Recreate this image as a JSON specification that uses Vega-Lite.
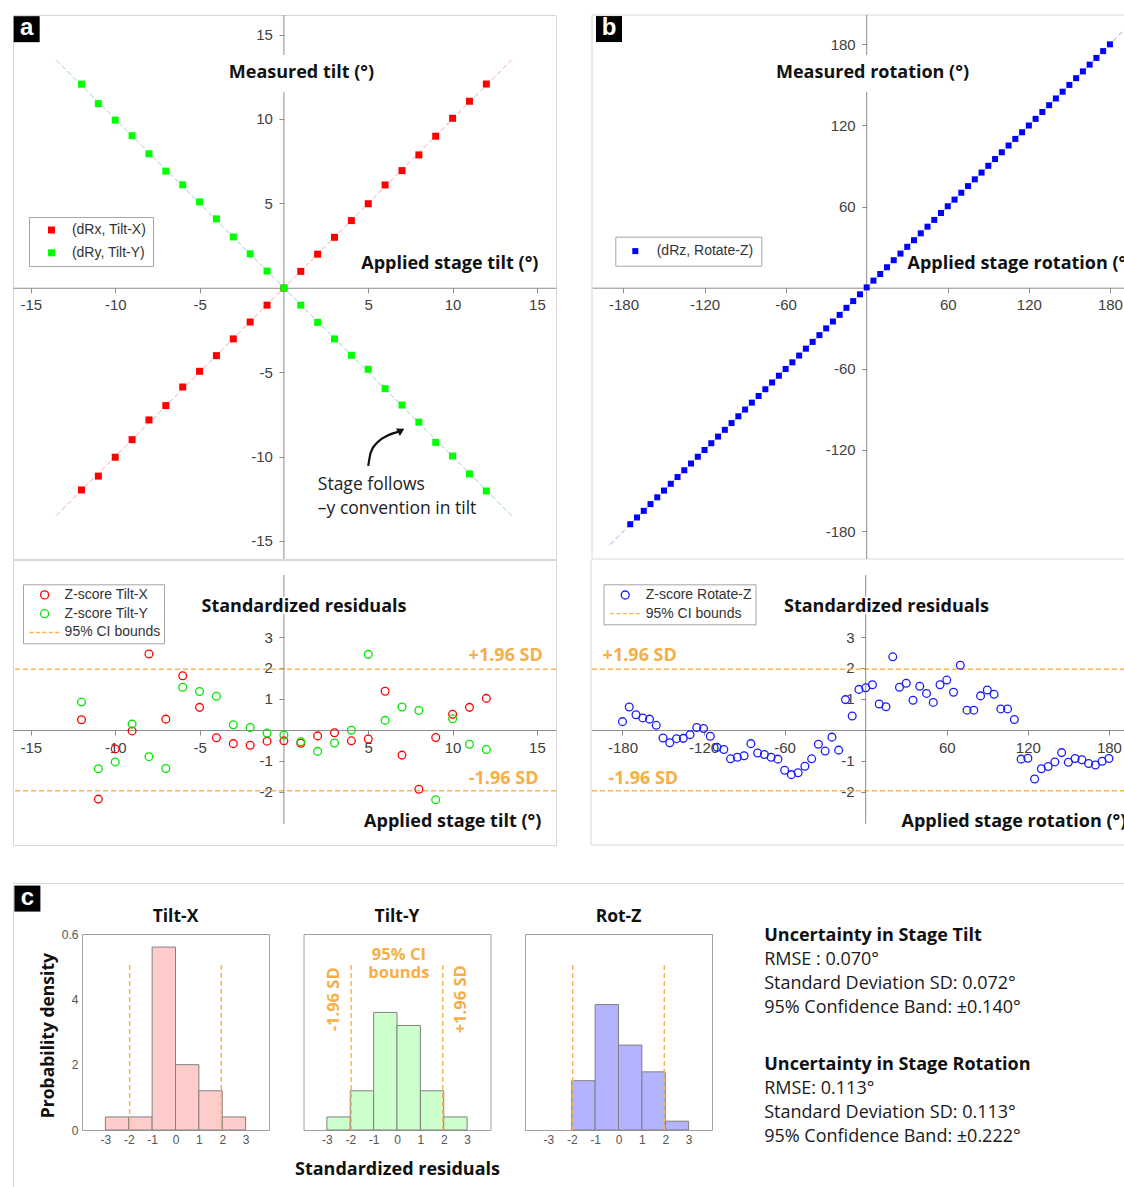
{
"$schema": "https://vega.github.io/schema/vega-lite/v6.json",
"background": "white",
"padding": {"left": 11, "top": 14, "right": 0, "bottom": 0},
"config": {
  "view": {"stroke": "#d6d6d6"},
  "axis": {"labelFont": "Liberation Sans", "labelFontSize": 15, "labelColor": "#404040", "tickColor": "#8c8c8c", "domainColor": "#8c8c8c", "tickSize": 5, "labelPadding": 5, "grid": false, "labelFlush": false, "labelOverlap": false},
  "title": {"font": "Open Sans", "fontWeight": "bold", "fontSize": 17.5, "color": "#111111"},
  "legend": {"labelFont": "Liberation Sans", "labelFontSize": 14, "labelColor": "#333333", "strokeColor": "#a6a6a6", "fillColor": "white", "labelLimit": 300}
},
"datasets": {
  "tilt": [
    {"series":"(dRx, Tilt-X)","applied":-12,"measured":-11.98},{"series":"(dRx, Tilt-X)","applied":-11,"measured":-11.16},{"series":"(dRx, Tilt-X)","applied":-10,"measured":-10.04},{"series":"(dRx, Tilt-X)","applied":-9,"measured":-9.0},{"series":"(dRx, Tilt-X)","applied":-8,"measured":-7.83},{"series":"(dRx, Tilt-X)","applied":-7,"measured":-6.98},{"series":"(dRx, Tilt-X)","applied":-6,"measured":-5.88},{"series":"(dRx, Tilt-X)","applied":-5,"measured":-4.95},{"series":"(dRx, Tilt-X)","applied":-4,"measured":-4.02},{"series":"(dRx, Tilt-X)","applied":-3,"measured":-3.03},{"series":"(dRx, Tilt-X)","applied":-2,"measured":-2.03},{"series":"(dRx, Tilt-X)","applied":-1,"measured":-1.03},{"series":"(dRx, Tilt-X)","applied":0,"measured":-0.02},{"series":"(dRx, Tilt-X)","applied":1,"measured":0.97},{"series":"(dRx, Tilt-X)","applied":2,"measured":1.99},{"series":"(dRx, Tilt-X)","applied":3,"measured":2.99},{"series":"(dRx, Tilt-X)","applied":4,"measured":3.98},{"series":"(dRx, Tilt-X)","applied":5,"measured":4.98},{"series":"(dRx, Tilt-X)","applied":6,"measured":6.09},{"series":"(dRx, Tilt-X)","applied":7,"measured":6.94},{"series":"(dRx, Tilt-X)","applied":8,"measured":7.87},{"series":"(dRx, Tilt-X)","applied":9,"measured":8.98},{"series":"(dRx, Tilt-X)","applied":10,"measured":10.04},{"series":"(dRx, Tilt-X)","applied":11,"measured":11.05},{"series":"(dRx, Tilt-X)","applied":12,"measured":12.07},
    {"series":"(dRy, Tilt-Y)","applied":-12,"measured":12.06},{"series":"(dRy, Tilt-Y)","applied":-11,"measured":10.91},{"series":"(dRy, Tilt-Y)","applied":-10,"measured":9.93},{"series":"(dRy, Tilt-Y)","applied":-9,"measured":9.01},{"series":"(dRy, Tilt-Y)","applied":-8,"measured":7.94},{"series":"(dRy, Tilt-Y)","applied":-7,"measured":6.91},{"series":"(dRy, Tilt-Y)","applied":-6,"measured":6.10},{"series":"(dRy, Tilt-Y)","applied":-5,"measured":5.09},{"series":"(dRy, Tilt-Y)","applied":-4,"measured":4.08},{"series":"(dRy, Tilt-Y)","applied":-3,"measured":3.01},{"series":"(dRy, Tilt-Y)","applied":-2,"measured":2.01},{"series":"(dRy, Tilt-Y)","applied":-1,"measured":0.99},{"series":"(dRy, Tilt-Y)","applied":0,"measured":-0.01},{"series":"(dRy, Tilt-Y)","applied":1,"measured":-1.03},{"series":"(dRy, Tilt-Y)","applied":2,"measured":-2.05},{"series":"(dRy, Tilt-Y)","applied":3,"measured":-3.03},{"series":"(dRy, Tilt-Y)","applied":4,"measured":-4.0},{"series":"(dRy, Tilt-Y)","applied":5,"measured":-4.83},{"series":"(dRy, Tilt-Y)","applied":6,"measured":-5.98},{"series":"(dRy, Tilt-Y)","applied":7,"measured":-6.95},{"series":"(dRy, Tilt-Y)","applied":8,"measured":-7.96},{"series":"(dRy, Tilt-Y)","applied":9,"measured":-9.16},{"series":"(dRy, Tilt-Y)","applied":10,"measured":-9.97},{"series":"(dRy, Tilt-Y)","applied":11,"measured":-11.03},{"series":"(dRy, Tilt-Y)","applied":12,"measured":-12.04}
  ],
  "rot": [
    {"series":"(dRz, Rotate-Z)","applied":-175,"measured":-174.9},{"series":"(dRz, Rotate-Z)","applied":-170,"measured":-169.9},{"series":"(dRz, Rotate-Z)","applied":-165,"measured":-165.0},{"series":"(dRz, Rotate-Z)","applied":-160,"measured":-160.0},{"series":"(dRz, Rotate-Z)","applied":-155,"measured":-155.0},{"series":"(dRz, Rotate-Z)","applied":-150,"measured":-150.0},{"series":"(dRz, Rotate-Z)","applied":-145,"measured":-145.0},{"series":"(dRz, Rotate-Z)","applied":-140,"measured":-140.0},{"series":"(dRz, Rotate-Z)","applied":-135,"measured":-135.0},{"series":"(dRz, Rotate-Z)","applied":-130,"measured":-130.0},{"series":"(dRz, Rotate-Z)","applied":-125,"measured":-125.0},{"series":"(dRz, Rotate-Z)","applied":-120,"measured":-120.0},{"series":"(dRz, Rotate-Z)","applied":-115,"measured":-115.0},{"series":"(dRz, Rotate-Z)","applied":-110,"measured":-110.1},{"series":"(dRz, Rotate-Z)","applied":-105,"measured":-105.1},{"series":"(dRz, Rotate-Z)","applied":-100,"measured":-100.1},{"series":"(dRz, Rotate-Z)","applied":-95,"measured":-95.1},{"series":"(dRz, Rotate-Z)","applied":-90,"measured":-90.1},{"series":"(dRz, Rotate-Z)","applied":-85,"measured":-85.0},{"series":"(dRz, Rotate-Z)","applied":-80,"measured":-80.1},{"series":"(dRz, Rotate-Z)","applied":-75,"measured":-75.1},{"series":"(dRz, Rotate-Z)","applied":-70,"measured":-70.1},{"series":"(dRz, Rotate-Z)","applied":-65,"measured":-65.1},{"series":"(dRz, Rotate-Z)","applied":-60,"measured":-60.1},{"series":"(dRz, Rotate-Z)","applied":-55,"measured":-55.2},{"series":"(dRz, Rotate-Z)","applied":-50,"measured":-50.2},{"series":"(dRz, Rotate-Z)","applied":-45,"measured":-45.1},{"series":"(dRz, Rotate-Z)","applied":-40,"measured":-40.1},{"series":"(dRz, Rotate-Z)","applied":-35,"measured":-35.1},{"series":"(dRz, Rotate-Z)","applied":-30,"measured":-30.1},{"series":"(dRz, Rotate-Z)","applied":-25,"measured":-25.0},{"series":"(dRz, Rotate-Z)","applied":-20,"measured":-20.1},{"series":"(dRz, Rotate-Z)","applied":-15,"measured":-14.9},{"series":"(dRz, Rotate-Z)","applied":-10,"measured":-9.9},{"series":"(dRz, Rotate-Z)","applied":-5,"measured":-4.9},{"series":"(dRz, Rotate-Z)","applied":0,"measured":0.2},{"series":"(dRz, Rotate-Z)","applied":5,"measured":5.2},{"series":"(dRz, Rotate-Z)","applied":10,"measured":10.1},{"series":"(dRz, Rotate-Z)","applied":15,"measured":15.1},{"series":"(dRz, Rotate-Z)","applied":20,"measured":20.3},{"series":"(dRz, Rotate-Z)","applied":25,"measured":25.2},{"series":"(dRz, Rotate-Z)","applied":30,"measured":30.2},{"series":"(dRz, Rotate-Z)","applied":35,"measured":35.1},{"series":"(dRz, Rotate-Z)","applied":40,"measured":40.2},{"series":"(dRz, Rotate-Z)","applied":45,"measured":45.1},{"series":"(dRz, Rotate-Z)","applied":50,"measured":50.1},{"series":"(dRz, Rotate-Z)","applied":55,"measured":55.2},{"series":"(dRz, Rotate-Z)","applied":60,"measured":60.2},{"series":"(dRz, Rotate-Z)","applied":65,"measured":65.1},{"series":"(dRz, Rotate-Z)","applied":70,"measured":70.2},{"series":"(dRz, Rotate-Z)","applied":75,"measured":75.1},{"series":"(dRz, Rotate-Z)","applied":80,"measured":80.1},{"series":"(dRz, Rotate-Z)","applied":85,"measured":85.1},{"series":"(dRz, Rotate-Z)","applied":90,"measured":90.1},{"series":"(dRz, Rotate-Z)","applied":95,"measured":95.1},{"series":"(dRz, Rotate-Z)","applied":100,"measured":100.1},{"series":"(dRz, Rotate-Z)","applied":105,"measured":105.1},{"series":"(dRz, Rotate-Z)","applied":110,"measured":110.0},{"series":"(dRz, Rotate-Z)","applied":115,"measured":114.9},{"series":"(dRz, Rotate-Z)","applied":120,"measured":119.9},{"series":"(dRz, Rotate-Z)","applied":125,"measured":124.8},{"series":"(dRz, Rotate-Z)","applied":130,"measured":129.9},{"series":"(dRz, Rotate-Z)","applied":135,"measured":134.9},{"series":"(dRz, Rotate-Z)","applied":140,"measured":139.9},{"series":"(dRz, Rotate-Z)","applied":145,"measured":144.9},{"series":"(dRz, Rotate-Z)","applied":150,"measured":149.9},{"series":"(dRz, Rotate-Z)","applied":155,"measured":154.9},{"series":"(dRz, Rotate-Z)","applied":160,"measured":159.9},{"series":"(dRz, Rotate-Z)","applied":165,"measured":164.9},{"series":"(dRz, Rotate-Z)","applied":170,"measured":169.9},{"series":"(dRz, Rotate-Z)","applied":175,"measured":174.9},{"series":"(dRz, Rotate-Z)","applied":180,"measured":179.9}
  ],
  "zTilt": [
    {"series":"Z-score Tilt-X","applied":-12,"z":0.33},{"series":"Z-score Tilt-X","applied":-11,"z":-2.23},{"series":"Z-score Tilt-X","applied":-10,"z":-0.61},{"series":"Z-score Tilt-X","applied":-9,"z":-0.03},{"series":"Z-score Tilt-X","applied":-8,"z":2.45},{"series":"Z-score Tilt-X","applied":-7,"z":0.35},{"series":"Z-score Tilt-X","applied":-6,"z":1.75},{"series":"Z-score Tilt-X","applied":-5,"z":0.73},{"series":"Z-score Tilt-X","applied":-4,"z":-0.25},{"series":"Z-score Tilt-X","applied":-3,"z":-0.44},{"series":"Z-score Tilt-X","applied":-2,"z":-0.49},{"series":"Z-score Tilt-X","applied":-1,"z":-0.36},{"series":"Z-score Tilt-X","applied":0,"z":-0.35},{"series":"Z-score Tilt-X","applied":1,"z":-0.43},{"series":"Z-score Tilt-X","applied":2,"z":-0.19},{"series":"Z-score Tilt-X","applied":3,"z":-0.09},{"series":"Z-score Tilt-X","applied":4,"z":-0.35},{"series":"Z-score Tilt-X","applied":5,"z":-0.29},{"series":"Z-score Tilt-X","applied":6,"z":1.25},{"series":"Z-score Tilt-X","applied":7,"z":-0.81},{"series":"Z-score Tilt-X","applied":8,"z":-1.91},{"series":"Z-score Tilt-X","applied":9,"z":-0.24},{"series":"Z-score Tilt-X","applied":10,"z":0.51},{"series":"Z-score Tilt-X","applied":11,"z":0.73},{"series":"Z-score Tilt-X","applied":12,"z":1.02},
    {"series":"Z-score Tilt-Y","applied":-12,"z":0.90},{"series":"Z-score Tilt-Y","applied":-11,"z":-1.25},{"series":"Z-score Tilt-Y","applied":-10,"z":-1.03},{"series":"Z-score Tilt-Y","applied":-9,"z":0.19},{"series":"Z-score Tilt-Y","applied":-8,"z":-0.86},{"series":"Z-score Tilt-Y","applied":-7,"z":-1.24},{"series":"Z-score Tilt-Y","applied":-6,"z":1.38},{"series":"Z-score Tilt-Y","applied":-5,"z":1.24},{"series":"Z-score Tilt-Y","applied":-4,"z":1.09},{"series":"Z-score Tilt-Y","applied":-3,"z":0.17},{"series":"Z-score Tilt-Y","applied":-2,"z":0.08},{"series":"Z-score Tilt-Y","applied":-1,"z":-0.10},{"series":"Z-score Tilt-Y","applied":0,"z":-0.16},{"series":"Z-score Tilt-Y","applied":1,"z":-0.38},{"series":"Z-score Tilt-Y","applied":2,"z":-0.69},{"series":"Z-score Tilt-Y","applied":3,"z":-0.42},{"series":"Z-score Tilt-Y","applied":4,"z":-0.01},{"series":"Z-score Tilt-Y","applied":5,"z":2.44},{"series":"Z-score Tilt-Y","applied":6,"z":0.31},{"series":"Z-score Tilt-Y","applied":7,"z":0.74},{"series":"Z-score Tilt-Y","applied":8,"z":0.63},{"series":"Z-score Tilt-Y","applied":9,"z":-2.25},{"series":"Z-score Tilt-Y","applied":10,"z":0.36},{"series":"Z-score Tilt-Y","applied":11,"z":-0.46},{"series":"Z-score Tilt-Y","applied":12,"z":-0.63}
  ],
  "zRot": [
    {"series":"Z-score Rotate-Z","applied":-180,"z":0.27},{"series":"Z-score Rotate-Z","applied":-175,"z":0.74},{"series":"Z-score Rotate-Z","applied":-170,"z":0.49},{"series":"Z-score Rotate-Z","applied":-165,"z":0.39},{"series":"Z-score Rotate-Z","applied":-160,"z":0.35},{"series":"Z-score Rotate-Z","applied":-155,"z":0.15},{"series":"Z-score Rotate-Z","applied":-150,"z":-0.26},{"series":"Z-score Rotate-Z","applied":-145,"z":-0.41},{"series":"Z-score Rotate-Z","applied":-140,"z":-0.28},{"series":"Z-score Rotate-Z","applied":-135,"z":-0.27},{"series":"Z-score Rotate-Z","applied":-130,"z":-0.15},{"series":"Z-score Rotate-Z","applied":-125,"z":0.08},{"series":"Z-score Rotate-Z","applied":-120,"z":0.05},{"series":"Z-score Rotate-Z","applied":-115,"z":-0.20},{"series":"Z-score Rotate-Z","applied":-110,"z":-0.56},{"series":"Z-score Rotate-Z","applied":-105,"z":-0.63},{"series":"Z-score Rotate-Z","applied":-100,"z":-0.93},{"series":"Z-score Rotate-Z","applied":-95,"z":-0.88},{"series":"Z-score Rotate-Z","applied":-90,"z":-0.83},{"series":"Z-score Rotate-Z","applied":-85,"z":-0.44},{"series":"Z-score Rotate-Z","applied":-80,"z":-0.74},{"series":"Z-score Rotate-Z","applied":-75,"z":-0.79},{"series":"Z-score Rotate-Z","applied":-70,"z":-0.88},{"series":"Z-score Rotate-Z","applied":-65,"z":-0.94},{"series":"Z-score Rotate-Z","applied":-60,"z":-1.30},{"series":"Z-score Rotate-Z","applied":-55,"z":-1.44},{"series":"Z-score Rotate-Z","applied":-50,"z":-1.38},{"series":"Z-score Rotate-Z","applied":-45,"z":-1.17},{"series":"Z-score Rotate-Z","applied":-40,"z":-0.93},{"series":"Z-score Rotate-Z","applied":-35,"z":-0.46},{"series":"Z-score Rotate-Z","applied":-30,"z":-0.68},{"series":"Z-score Rotate-Z","applied":-25,"z":-0.23},{"series":"Z-score Rotate-Z","applied":-20,"z":-0.65},{"series":"Z-score Rotate-Z","applied":-15,"z":0.98},{"series":"Z-score Rotate-Z","applied":-10,"z":0.45},{"series":"Z-score Rotate-Z","applied":-5,"z":1.31},{"series":"Z-score Rotate-Z","applied":0,"z":1.36},{"series":"Z-score Rotate-Z","applied":5,"z":1.46},{"series":"Z-score Rotate-Z","applied":10,"z":0.84},{"series":"Z-score Rotate-Z","applied":15,"z":0.75},{"series":"Z-score Rotate-Z","applied":20,"z":2.36},{"series":"Z-score Rotate-Z","applied":25,"z":1.38},{"series":"Z-score Rotate-Z","applied":30,"z":1.51},{"series":"Z-score Rotate-Z","applied":35,"z":0.96},{"series":"Z-score Rotate-Z","applied":40,"z":1.41},{"series":"Z-score Rotate-Z","applied":45,"z":1.18},{"series":"Z-score Rotate-Z","applied":50,"z":0.89},{"series":"Z-score Rotate-Z","applied":55,"z":1.46},{"series":"Z-score Rotate-Z","applied":60,"z":1.61},{"series":"Z-score Rotate-Z","applied":65,"z":1.22},{"series":"Z-score Rotate-Z","applied":70,"z":2.09},{"series":"Z-score Rotate-Z","applied":75,"z":0.64},{"series":"Z-score Rotate-Z","applied":80,"z":0.64},{"series":"Z-score Rotate-Z","applied":85,"z":1.10},{"series":"Z-score Rotate-Z","applied":90,"z":1.29},{"series":"Z-score Rotate-Z","applied":95,"z":1.15},{"series":"Z-score Rotate-Z","applied":100,"z":0.68},{"series":"Z-score Rotate-Z","applied":105,"z":0.68},{"series":"Z-score Rotate-Z","applied":110,"z":0.34},{"series":"Z-score Rotate-Z","applied":115,"z":-0.94},{"series":"Z-score Rotate-Z","applied":120,"z":-0.91},{"series":"Z-score Rotate-Z","applied":125,"z":-1.58},{"series":"Z-score Rotate-Z","applied":130,"z":-1.25},{"series":"Z-score Rotate-Z","applied":135,"z":-1.18},{"series":"Z-score Rotate-Z","applied":140,"z":-1.03},{"series":"Z-score Rotate-Z","applied":145,"z":-0.73},{"series":"Z-score Rotate-Z","applied":150,"z":-1.04},{"series":"Z-score Rotate-Z","applied":155,"z":-0.92},{"series":"Z-score Rotate-Z","applied":160,"z":-0.96},{"series":"Z-score Rotate-Z","applied":165,"z":-1.08},{"series":"Z-score Rotate-Z","applied":170,"z":-1.13},{"series":"Z-score Rotate-Z","applied":175,"z":-1.01},{"series":"Z-score Rotate-Z","applied":180,"z":-0.92}
  ],
  "ciBounds": [{"series":"95% CI bounds","z":1.96},{"series":"95% CI bounds","z":-1.96}],
  "diagA": [{"series":"Tilt-X","applied":-13.5,"measured":-13.5},{"series":"Tilt-X","applied":13.5,"measured":13.5},{"series":"Tilt-Y","applied":-13.5,"measured":13.5},{"series":"Tilt-Y","applied":13.5,"measured":-13.5}],
  "diagB": [{"applied":-190,"measured":-190},{"applied":190,"measured":190}],
  "arrow": [{"applied":5.0,"measured":-10.55},{"applied":5.15,"measured":-9.75},{"applied":5.55,"measured":-9.15},{"applied":6.15,"measured":-8.75},{"applied":6.8,"measured":-8.52}],
  "hist": [
    {"axis":"Tilt-X","bin_start":-3,"bin_end":-2,"density":0.04},{"axis":"Tilt-X","bin_start":-2,"bin_end":-1,"density":0.04},{"axis":"Tilt-X","bin_start":-1,"bin_end":0,"density":0.56},{"axis":"Tilt-X","bin_start":0,"bin_end":1,"density":0.20},{"axis":"Tilt-X","bin_start":1,"bin_end":2,"density":0.12},{"axis":"Tilt-X","bin_start":2,"bin_end":3,"density":0.04},
    {"axis":"Tilt-Y","bin_start":-3,"bin_end":-2,"density":0.04},{"axis":"Tilt-Y","bin_start":-2,"bin_end":-1,"density":0.12},{"axis":"Tilt-Y","bin_start":-1,"bin_end":0,"density":0.36},{"axis":"Tilt-Y","bin_start":0,"bin_end":1,"density":0.32},{"axis":"Tilt-Y","bin_start":1,"bin_end":2,"density":0.12},{"axis":"Tilt-Y","bin_start":2,"bin_end":3,"density":0.04},
    {"axis":"Rot-Z","bin_start":-2,"bin_end":-1,"density":0.151},{"axis":"Rot-Z","bin_start":-1,"bin_end":0,"density":0.384},{"axis":"Rot-Z","bin_start":0,"bin_end":1,"density":0.260},{"axis":"Rot-Z","bin_start":1,"bin_end":2,"density":0.178},{"axis":"Rot-Z","bin_start":2,"bin_end":3,"density":0.027}
  ],
  "histCI": [{"bin_start":-1.96},{"bin_start":1.96}],
  "stats": [
    {"row":0,"kind":"heading","text":"Uncertainty in Stage Tilt"},
    {"row":1,"kind":"body","text":"RMSE : 0.070°"},
    {"row":2,"kind":"body","text":"Standard Deviation SD: 0.072°"},
    {"row":3,"kind":"body","text":"95% Confidence Band: ±0.140°"},
    {"row":5.33,"kind":"heading","text":"Uncertainty in Stage Rotation"},
    {"row":6.33,"kind":"body","text":"RMSE: 0.113°"},
    {"row":7.33,"kind":"body","text":"Standard Deviation SD: 0.113°"},
    {"row":8.33,"kind":"body","text":"95% Confidence Band: ±0.222°"}
  ]
},
"spacing": -1,
"resolve": {"scale": {"color": "independent", "shape": "independent"}, "legend": {"color": "independent", "shape": "independent"}},
"vconcat": [
  {
    "spacing": 34,
    "resolve": {"scale": {"color": "independent", "shape": "independent"}, "legend": {"color": "independent", "shape": "independent"}},
    "hconcat": [
      {
        "width": 543, "height": 544,
        "layer": [
          {"data": {"name": "diagA"}, "transform": [{"filter": "datum.series === 'Tilt-X'"}],
           "mark": {"type": "line", "stroke": "#f2a3a3", "strokeWidth": 1, "strokeDash": [5, 3]},
           "encoding": {
             "x": {"field": "applied", "type": "quantitative", "scale": {"domain": [-16.06, 16.13], "nice": false, "zero": false}, "axis": {"title": null, "values": [-15, -10, -5, 5, 10, 15], "labelExpr": "toString(datum.value)", "offset": -271.25}},
             "y": {"field": "measured", "type": "quantitative", "scale": {"domain": [-16.07, 16.16], "nice": false, "zero": false}, "axis": {"title": null, "values": [-15, -10, -5, 5, 10, 15], "labelExpr": "toString(datum.value)", "offset": -270.9, "domain": false, "labelPadding": 6.5}}}},
          {"data": {"name": "diagA"}, "transform": [{"filter": "datum.series === 'Tilt-Y'"}],
           "mark": {"type": "line", "stroke": "#8fd4c1", "strokeWidth": 1, "strokeDash": [5, 3]},
           "encoding": {"x": {"field": "applied", "type": "quantitative"}, "y": {"field": "measured", "type": "quantitative"}}},
          {"data": {"values": [{}]}, "mark": {"type": "rule", "color": "#8c8c8c"},
           "encoding": {"x": {"datum": 0}, "y": {"datum": -16.07}, "y2": {"datum": 11.59}}},
          {"data": {"values": [{}]}, "mark": {"type": "rule", "color": "#8c8c8c"},
           "encoding": {"x": {"datum": 0}, "y": {"datum": 13.79}, "y2": {"datum": 16.16}}},
          {"data": {"name": "tilt"}, "mark": {"type": "point", "shape": "square", "filled": true, "size": 49, "opacity": 1},
           "encoding": {
             "x": {"field": "applied", "type": "quantitative"},
             "y": {"field": "measured", "type": "quantitative"},
             "color": {"field": "series", "type": "nominal", "scale": {"domain": ["(dRx, Tilt-X)", "(dRy, Tilt-Y)"], "range": ["#ff0000", "#00ff00"]},
               "legend": {"title": null, "orient": "none", "legendX": 16, "legendY": 202, "padding": 6, "rowPadding": 8.8, "symbolOffset": 9.5, "labelOffset": 13.4, "symbolType": "square", "symbolSize": 49}}}},
          {"data": {"values": [{}]}, "mark": {"type": "text", "text": "Measured tilt (°)", "font": "Open Sans", "fontWeight": "bold", "fontSize": 18, "color": "#111111", "align": "center", "baseline": "middle"},
           "encoding": {"x": {"datum": 1.04}, "y": {"datum": 12.7}}},
          {"data": {"values": [{}]}, "mark": {"type": "text", "text": "Applied stage tilt (°)", "font": "Open Sans", "fontWeight": "bold", "fontSize": 18, "color": "#111111", "align": "right", "baseline": "middle"},
           "encoding": {"x": {"datum": 15.09}, "y": {"datum": 1.39}}},
          {"data": {"values": [{}]}, "mark": {"type": "text", "text": ["Stage follows", "–y convention in tilt"], "lineHeight": 24, "font": "Open Sans", "fontSize": 17.5, "color": "#222222", "align": "left", "baseline": "middle"},
           "encoding": {"x": {"datum": 2.01}, "y": {"datum": -11.66}}},
          {"data": {"name": "arrow"}, "mark": {"type": "line", "color": "#111111", "strokeWidth": 2.2, "interpolate": "monotone"},
           "encoding": {"x": {"field": "applied", "type": "quantitative"}, "y": {"field": "measured", "type": "quantitative"}}},
          {"data": {"values": [{}]}, "mark": {"type": "point", "shape": "triangle-up", "filled": true, "size": 70, "color": "#111111", "opacity": 1, "angle": 62},
           "encoding": {"x": {"datum": 6.95}, "y": {"datum": -8.46}}},
          {"data": {"values": [{}]}, "mark": {"type": "point", "shape": "square", "filled": true, "size": 676, "color": "#000000", "opacity": 1},
           "encoding": {"x": {"datum": -15.25}, "y": {"datum": 15.32}}},
          {"data": {"values": [{}]}, "mark": {"type": "text", "text": "a", "font": "Liberation Sans", "fontWeight": "bold", "fontSize": 24, "color": "#ffffff", "align": "center", "baseline": "middle", "dy": -1},
           "encoding": {"x": {"datum": -15.25}, "y": {"datum": 15.32}}}
        ]
      },
      {
        "width": 534, "height": 544,
        "view": {"stroke": null},
        "layer": [
          {"data": {"name": "diagB"},
           "mark": {"type": "line", "stroke": "#a3a3ff", "strokeWidth": 1, "strokeDash": [5, 3]},
           "encoding": {
             "x": {"field": "applied", "type": "quantitative", "scale": {"domain": [-203.3, 191.9], "nice": false, "zero": false}, "axis": {"title": null, "values": [-180, -120, -60, 60, 120, 180], "labelExpr": "toString(datum.value)", "offset": -271.3}},
             "y": {"field": "measured", "type": "quantitative", "scale": {"domain": [-200.6, 201.6], "nice": false, "zero": false}, "axis": {"title": null, "values": [-180, -120, -60, 60, 120, 180], "labelExpr": "toString(datum.value)", "offset": -274.7, "domain": false, "labelPadding": 6.5}}}},
          {"data": {"values": [{}]}, "mark": {"type": "rule", "color": "#d6d6d6"},
           "encoding": {"x": {"datum": -203.3}, "y": {"datum": -200.6}, "y2": {"datum": 201.6}}},
          {"data": {"values": [{}]}, "mark": {"type": "rule", "color": "#d6d6d6"},
           "encoding": {"x": {"datum": -203.3}, "x2": {"datum": 191.9}, "y": {"datum": 201.6}}},
          {"data": {"values": [{}]}, "mark": {"type": "rule", "color": "#d6d6d6"},
           "encoding": {"x": {"datum": -203.3}, "x2": {"datum": 191.9}, "y": {"datum": -200.6}}},
          {"data": {"values": [{}]}, "mark": {"type": "rule", "color": "#8c8c8c"},
           "encoding": {"x": {"datum": 0}, "y": {"datum": -200.6}, "y2": {"datum": 144.7}}},
          {"data": {"values": [{}]}, "mark": {"type": "rule", "color": "#8c8c8c"},
           "encoding": {"x": {"datum": 0}, "y": {"datum": 172}, "y2": {"datum": 201.6}}},
          {"data": {"name": "rot"}, "mark": {"type": "point", "shape": "square", "filled": true, "size": 36, "opacity": 1},
           "encoding": {
             "x": {"field": "applied", "type": "quantitative"},
             "y": {"field": "measured", "type": "quantitative"},
             "color": {"field": "series", "type": "nominal", "scale": {"domain": ["(dRz, Rotate-Z)"], "range": ["#0000ff"]},
               "legend": {"title": null, "orient": "none", "legendX": 23.3, "legendY": 221.7, "padding": 7.4, "symbolOffset": 5.6, "labelOffset": 14.4, "symbolType": "square", "symbolSize": 36}}}},
          {"data": {"values": [{}]}, "mark": {"type": "text", "text": "Measured rotation (°)", "font": "Open Sans", "fontWeight": "bold", "fontSize": 18, "color": "#111111", "align": "center", "baseline": "middle"},
           "encoding": {"x": {"datum": 4.3}, "y": {"datum": 158.4}}},
          {"data": {"values": [{}]}, "mark": {"type": "text", "text": "Applied stage rotation (°)", "font": "Open Sans", "fontWeight": "bold", "fontSize": 18, "color": "#111111", "align": "left", "baseline": "middle", "clip": true},
           "encoding": {"x": {"datum": 30.2}, "y": {"datum": 17.4}}},
          {"data": {"values": [{}]}, "mark": {"type": "point", "shape": "square", "filled": true, "size": 676, "color": "#000000", "opacity": 1},
           "encoding": {"x": {"datum": -190.7}, "y": {"datum": 191.2}}},
          {"data": {"values": [{}]}, "mark": {"type": "text", "text": "b", "font": "Liberation Sans", "fontWeight": "bold", "fontSize": 24, "color": "#ffffff", "align": "center", "baseline": "middle", "dy": -1},
           "encoding": {"x": {"datum": -190.7}, "y": {"datum": 191.2}}}
        ]
      }
    ]
  },
  {
    "spacing": 35,
    "bounds": "flush",
    "resolve": {"scale": {"color": "independent", "shape": "independent"}, "legend": {"color": "independent", "shape": "independent"}},
    "hconcat": [
      {
        "width": 543, "height": 285,
        "layer": [
          {"data": {"name": "ciBounds"},
           "mark": {"type": "rule", "strokeDash": [5, 3], "strokeWidth": 1.5},
           "encoding": {
             "y": {"field": "z", "type": "quantitative", "scale": {"domain": [-3.71, 5.484], "nice": false, "zero": false}, "axis": {"title": null, "values": [-2, -1, 1, 2, 3], "labelExpr": "toString(datum.value)", "offset": -270.9, "domain": false, "labelPadding": 6.5}},
             "color": {"field": "series", "type": "nominal", "scale": {"domain": ["Z-score Tilt-X", "Z-score Tilt-Y", "95% CI bounds"], "range": ["#ff0000", "#00e600", "#f9b451"]}}}},
          {"data": {"values": [{}]}, "mark": {"type": "rule", "color": "#8c8c8c"},
           "encoding": {"x": {"datum": 0}, "y": {"datum": -3.03}, "y2": {"datum": 3.74}}},
          {"data": {"values": [{}]}, "mark": {"type": "rule", "color": "#8c8c8c"},
           "encoding": {"x": {"datum": 0}, "y": {"datum": 4.29}, "y2": {"datum": 5.0}}},
          {"data": {"values": [{}]}, "mark": {"type": "rule", "color": "#d6d6d6"},
           "encoding": {"x": {"datum": -16.06}, "x2": {"datum": 49.8}, "y": {"datum": -4.952}}},
          {"data": {"name": "zTilt"}, "mark": {"type": "point", "filled": false, "size": 60, "strokeWidth": 1.3, "opacity": 1},
           "encoding": {
             "x": {"field": "applied", "type": "quantitative", "scale": {"domain": [-16.06, 16.13], "nice": false, "zero": false}, "axis": {"title": null, "values": [-15, -10, -5, 5, 10, 15], "labelExpr": "toString(datum.value)", "offset": -115}},
             "y": {"field": "z", "type": "quantitative"},
             "color": {"field": "series", "type": "nominal", "scale": {"domain": ["Z-score Tilt-X", "Z-score Tilt-Y", "95% CI bounds"], "range": ["#ff0000", "#00e600", "#f9b451"]},
               "legend": {"title": null, "orient": "none", "legendX": 10, "legendY": 24.3, "padding": 3.6, "rowPadding": 4.8, "symbolOffset": 11, "labelOffset": 13, "symbolSize": 64, "symbolStrokeWidth": 1.3}},
             "shape": {"field": "series", "type": "nominal", "scale": {"domain": ["Z-score Tilt-X", "Z-score Tilt-Y", "95% CI bounds"], "range": ["circle", "circle", "M-3.75,0H-2.75M-2.15,0H-1.15M-0.55,0H0.45M1.05,0H2.05M2.65,0H3.65"]},
               "legend": {"title": null, "orient": "none", "legendX": 10, "legendY": 24.3, "padding": 3.6, "rowPadding": 4.8, "symbolOffset": 11, "labelOffset": 13, "symbolSize": 64, "symbolStrokeWidth": 1.3}}}},
          {"data": {"values": [{}]}, "mark": {"type": "text", "text": "Standardized residuals", "font": "Open Sans", "fontWeight": "bold", "fontSize": 18, "color": "#111111", "align": "center", "baseline": "middle"},
           "encoding": {"x": {"datum": 1.19}, "y": {"datum": 3.97}}},
          {"data": {"values": [{}]}, "mark": {"type": "text", "text": "+1.96 SD", "font": "Open Sans", "fontWeight": "bold", "fontSize": 18, "color": "#f7ae45", "align": "right", "baseline": "middle"},
           "encoding": {"x": {"datum": 15.35}, "y": {"datum": 2.38}}},
          {"data": {"values": [{}]}, "mark": {"type": "text", "text": "-1.96 SD", "font": "Open Sans", "fontWeight": "bold", "fontSize": 18, "color": "#f7ae45", "align": "right", "baseline": "middle"},
           "encoding": {"x": {"datum": 15.09}, "y": {"datum": -1.59}}},
          {"data": {"values": [{}]}, "mark": {"type": "text", "text": "Applied stage tilt (°)", "font": "Open Sans", "fontWeight": "bold", "fontSize": 18, "color": "#111111", "align": "right", "baseline": "middle"},
           "encoding": {"x": {"datum": 15.26}, "y": {"datum": -2.97}}}
        ]
      },
      {
        "width": 534, "height": 285,
        "view": {"stroke": null},
        "layer": [
          {"data": {"name": "ciBounds"},
           "mark": {"type": "rule", "strokeDash": [5, 3], "strokeWidth": 1.5},
           "encoding": {
             "y": {"field": "z", "type": "quantitative", "scale": {"domain": [-3.71, 5.484], "nice": false, "zero": false}, "axis": {"title": null, "values": [-2, -1, 1, 2, 3], "labelExpr": "toString(datum.value)", "offset": -274.7, "domain": false, "labelPadding": 6.5}},
             "color": {"field": "series", "type": "nominal", "scale": {"domain": ["Z-score Rotate-Z", "95% CI bounds"], "range": ["#1a1aff", "#f9b451"]}}}},
          {"data": {"values": [{}]}, "mark": {"type": "rule", "color": "#d6d6d6"},
           "encoding": {"x": {"datum": -203.3}, "y": {"datum": -3.71}, "y2": {"datum": 5.484}}},
          {"data": {"values": [{}]}, "mark": {"type": "rule", "color": "#d6d6d6"},
           "encoding": {"x": {"datum": -203.3}, "x2": {"datum": 191.9}, "y": {"datum": -3.71}}},
          {"data": {"values": [{}]}, "mark": {"type": "rule", "color": "#8c8c8c"},
           "encoding": {"x": {"datum": 0}, "y": {"datum": -3.03}, "y2": {"datum": 3.74}}},
          {"data": {"values": [{}]}, "mark": {"type": "rule", "color": "#8c8c8c"},
           "encoding": {"x": {"datum": 0}, "y": {"datum": 4.29}, "y2": {"datum": 5.0}}},
          {"data": {"name": "zRot"}, "mark": {"type": "point", "filled": false, "size": 60, "strokeWidth": 1.3, "opacity": 1},
           "encoding": {
             "x": {"field": "applied", "type": "quantitative", "scale": {"domain": [-203.3, 191.9], "nice": false, "zero": false}, "axis": {"title": null, "values": [-180, -120, -60, 60, 120, 180], "labelExpr": "toString(datum.value)", "offset": -115}},
             "y": {"field": "z", "type": "quantitative"},
             "color": {"field": "series", "type": "nominal", "scale": {"domain": ["Z-score Rotate-Z", "95% CI bounds"], "range": ["#1a1aff", "#f9b451"]},
               "legend": {"title": null, "orient": "none", "legendX": 12.5, "legendY": 24.3, "padding": 3.7, "rowPadding": 4.6, "symbolOffset": 11, "labelOffset": 13.5, "symbolSize": 64, "symbolStrokeWidth": 1.3}},
             "shape": {"field": "series", "type": "nominal", "scale": {"domain": ["Z-score Rotate-Z", "95% CI bounds"], "range": ["circle", "M-3.75,0H-2.75M-2.15,0H-1.15M-0.55,0H0.45M1.05,0H2.05M2.65,0H3.65"]},
               "legend": {"title": null, "orient": "none", "legendX": 12.5, "legendY": 24.3, "padding": 3.7, "rowPadding": 4.6, "symbolOffset": 11, "labelOffset": 13.5, "symbolSize": 64, "symbolStrokeWidth": 1.3}}}},
          {"data": {"values": [{}]}, "mark": {"type": "text", "text": "Standardized residuals", "font": "Open Sans", "fontWeight": "bold", "fontSize": 18, "color": "#111111", "align": "center", "baseline": "middle"},
           "encoding": {"x": {"datum": 15.4}, "y": {"datum": 3.97}}},
          {"data": {"values": [{}]}, "mark": {"type": "text", "text": "+1.96 SD", "font": "Open Sans", "fontWeight": "bold", "fontSize": 18, "color": "#f7ae45", "align": "left", "baseline": "middle"},
           "encoding": {"x": {"datum": -194.7}, "y": {"datum": 2.38}}},
          {"data": {"values": [{}]}, "mark": {"type": "text", "text": "-1.96 SD", "font": "Open Sans", "fontWeight": "bold", "fontSize": 18, "color": "#f7ae45", "align": "left", "baseline": "middle"},
           "encoding": {"x": {"datum": -190.4}, "y": {"datum": -1.58}}},
          {"data": {"values": [{}]}, "mark": {"type": "text", "text": "Applied stage rotation (°)", "font": "Open Sans", "fontWeight": "bold", "fontSize": 18, "color": "#111111", "align": "left", "baseline": "middle", "clip": true},
           "encoding": {"x": {"datum": 26.5}, "y": {"datum": -2.97}}}
        ]
      }
    ]
  },
  {
    "spacing": 2,
    "resolve": {"scale": {"color": "independent", "shape": "independent"}, "legend": {"color": "independent", "shape": "independent"}},
    "hconcat": [
      {
        "width": 1, "height": 196,
        "view": {"stroke": null},
        "layer": [
          {"data": {"values": [{}]}, "mark": {"type": "rule", "color": "#d6d6d6"},
           "encoding": {"x": {"datum": 0.5, "scale": {"domain": [0, 1], "nice": false, "zero": false}, "axis": null}, "y": {"datum": 0.7506, "scale": {"domain": [0, 0.6], "nice": false, "zero": false}, "axis": null}, "y2": {"datum": -0.178}}},
          {"data": {"values": [{}]}, "mark": {"type": "point", "shape": "square", "filled": true, "size": 676, "color": "#000000", "opacity": 1},
           "encoding": {"x": {"datum": 14.4, "axis": null}, "y": {"datum": 0.7084, "axis": null}}},
          {"data": {"values": [{}]}, "mark": {"type": "text", "text": "c", "font": "Liberation Sans", "fontWeight": "bold", "fontSize": 24, "color": "#ffffff", "align": "center", "baseline": "middle", "dy": -1},
           "encoding": {"x": {"datum": 14.4, "axis": null}, "y": {"datum": 0.7084, "axis": null}}},
          {"data": {"values": [{}]}, "mark": {"type": "text", "text": "Probability density", "angle": 270, "font": "Open Sans", "fontWeight": "bold", "fontSize": 17.5, "color": "#111111", "align": "center", "baseline": "middle"},
           "encoding": {"x": {"datum": 35.7, "axis": null}, "y": {"datum": 0.289, "axis": null}}}
        ]
      },
      {
        "spacing": 23.5,
        "resolve": {"scale": {"color": "independent", "shape": "independent"}, "legend": {"color": "independent", "shape": "independent"}},
        "hconcat": [
          {
            "width": 187, "height": 196,
            "title": {"text": "Tilt-X", "offset": 3},
            "view": {"stroke": "#a0a0a0"},
            "layer": [
              {"data": {"name": "hist"}, "transform": [{"filter": "datum.axis === 'Tilt-X'"}],
               "mark": {"type": "bar", "fill": "#ffcccc", "stroke": "#808080", "strokeWidth": 1},
               "encoding": {
                 "x": {"field": "bin_start", "type": "quantitative", "scale": {"domain": [-4, 4], "nice": false, "zero": false}, "axis": {"title": null, "values": [-3, -2, -1, 0, 1, 2, 3], "tickCount": 10, "labelExpr": "toString(datum.value)", "labelOverlap": false, "labelFontSize": 12, "labelColor": "#555555", "domain": false, "ticks": false, "labelPadding": 4}},
                 "x2": {"field": "bin_end"},
                 "y": {"field": "density", "type": "quantitative", "scale": {"domain": [0, 0.6], "nice": false, "zero": false}, "axis": {"title": null, "values": [0, 0.2, 0.4, 0.6], "tickCount": 10, "labelExpr": "datum.value === 0.6 ? '0.6' : format(datum.value * 10, 'd')", "labelOverlap": false, "labelFontSize": 12, "labelColor": "#555555", "domain": false, "ticks": false, "labelPadding": 4}},
                 "y2": {"datum": 0}}},
              {"data": {"name": "histCI"}, "mark": {"type": "rule", "color": "#f9b451", "strokeDash": [5, 3], "strokeWidth": 1.5},
               "encoding": {"x": {"field": "bin_start", "type": "quantitative"}, "y": {"datum": 0}, "y2": {"datum": 0.51}}}
            ]
          },
          {
            "width": 187, "height": 196,
            "title": {"text": "Tilt-Y", "offset": 9},
            "view": {"stroke": "#a0a0a0"},
            "layer": [
              {"data": {"name": "hist"}, "transform": [{"filter": "datum.axis === 'Tilt-Y'"}],
               "mark": {"type": "bar", "fill": "#ccffcc", "stroke": "#808080", "strokeWidth": 1},
               "encoding": {
                 "x": {"field": "bin_start", "type": "quantitative", "scale": {"domain": [-4, 4], "nice": false, "zero": false}, "axis": {"title": "Standardized residuals", "values": [-3, -2, -1, 0, 1, 2, 3], "tickCount": 10, "labelExpr": "toString(datum.value)", "labelOverlap": false, "labelFontSize": 12, "labelColor": "#555555", "domain": false, "ticks": false, "labelPadding": 4, "titleFont": "Open Sans", "titleFontWeight": "bold", "titleFontSize": 18, "titleColor": "#111111", "titlePadding": 15}},
                 "x2": {"field": "bin_end"},
                 "y": {"field": "density", "type": "quantitative", "scale": {"domain": [0, 0.6], "nice": false, "zero": false}, "axis": null},
                 "y2": {"datum": 0}}},
              {"data": {"name": "histCI"}, "mark": {"type": "rule", "color": "#f9b451", "strokeDash": [5, 3], "strokeWidth": 1.5},
               "encoding": {"x": {"field": "bin_start", "type": "quantitative"}, "y": {"datum": 0}, "y2": {"datum": 0.51}}},
              {"data": {"values": [{}]}, "mark": {"type": "text", "text": ["95% CI", "bounds"], "lineHeight": 18, "font": "Open Sans", "fontWeight": "bold", "fontSize": 16.5, "color": "#f7ae45", "align": "center", "baseline": "middle"},
               "encoding": {"x": {"datum": 0.08}, "y": {"datum": 0.536}}},
              {"data": {"values": [{}]}, "mark": {"type": "text", "text": "-1.96 SD", "angle": 270, "font": "Open Sans", "fontWeight": "bold", "fontSize": 16.5, "color": "#f7ae45", "align": "center", "baseline": "middle"},
               "encoding": {"x": {"datum": -2.69}, "y": {"datum": 0.40}}},
              {"data": {"values": [{}]}, "mark": {"type": "text", "text": "+1.96 SD", "angle": 270, "font": "Open Sans", "fontWeight": "bold", "fontSize": 16.5, "color": "#f7ae45", "align": "center", "baseline": "middle"},
               "encoding": {"x": {"datum": 2.73}, "y": {"datum": 0.40}}}
            ]
          },
          {
            "width": 187, "height": 196,
            "title": {"text": "Rot-Z", "offset": 9},
            "view": {"stroke": "#a0a0a0"},
            "layer": [
              {"data": {"name": "hist"}, "transform": [{"filter": "datum.axis === 'Rot-Z'"}],
               "mark": {"type": "bar", "fill": "#b3b3ff", "stroke": "#808080", "strokeWidth": 1},
               "encoding": {
                 "x": {"field": "bin_start", "type": "quantitative", "scale": {"domain": [-4, 4], "nice": false, "zero": false}, "axis": {"title": null, "values": [-3, -2, -1, 0, 1, 2, 3], "tickCount": 10, "labelExpr": "toString(datum.value)", "labelOverlap": false, "labelFontSize": 12, "labelColor": "#555555", "domain": false, "ticks": false, "labelPadding": 4}},
                 "x2": {"field": "bin_end"},
                 "y": {"field": "density", "type": "quantitative", "scale": {"domain": [0, 0.6], "nice": false, "zero": false}, "axis": null},
                 "y2": {"datum": 0}}},
              {"data": {"name": "histCI"}, "mark": {"type": "rule", "color": "#f9b451", "strokeDash": [5, 3], "strokeWidth": 1.5},
               "encoding": {"x": {"field": "bin_start", "type": "quantitative"}, "y": {"datum": 0}, "y2": {"datum": 0.51}}}
            ]
          },
          {
            "width": 360, "height": 196,
            "view": {"stroke": null},
            "data": {"name": "stats"},
            "layer": [
              {"transform": [{"filter": "datum.kind === 'heading'"}],
               "mark": {"type": "text", "font": "Open Sans", "fontWeight": "bold", "fontSize": 18, "color": "#111111", "align": "left", "baseline": "middle"},
               "encoding": {
                 "x": {"datum": 0, "scale": {"domain": [-27.7, 332.3], "nice": false, "zero": false}, "axis": null},
                 "y": {"field": "row", "type": "quantitative", "scale": {"domain": [-0.066, 8.03], "reverse": true, "nice": false, "zero": false}, "axis": null},
                 "text": {"field": "text"}}},
              {"transform": [{"filter": "datum.kind === 'body'"}],
               "mark": {"type": "text", "font": "Open Sans", "fontSize": 18, "color": "#1a1a1a", "align": "left", "baseline": "middle"},
               "encoding": {
                 "x": {"datum": 0, "axis": null},
                 "y": {"field": "row", "type": "quantitative", "axis": null},
                 "text": {"field": "text"}}}
            ]
          }
        ]
      }
    ]
  }
]
}
